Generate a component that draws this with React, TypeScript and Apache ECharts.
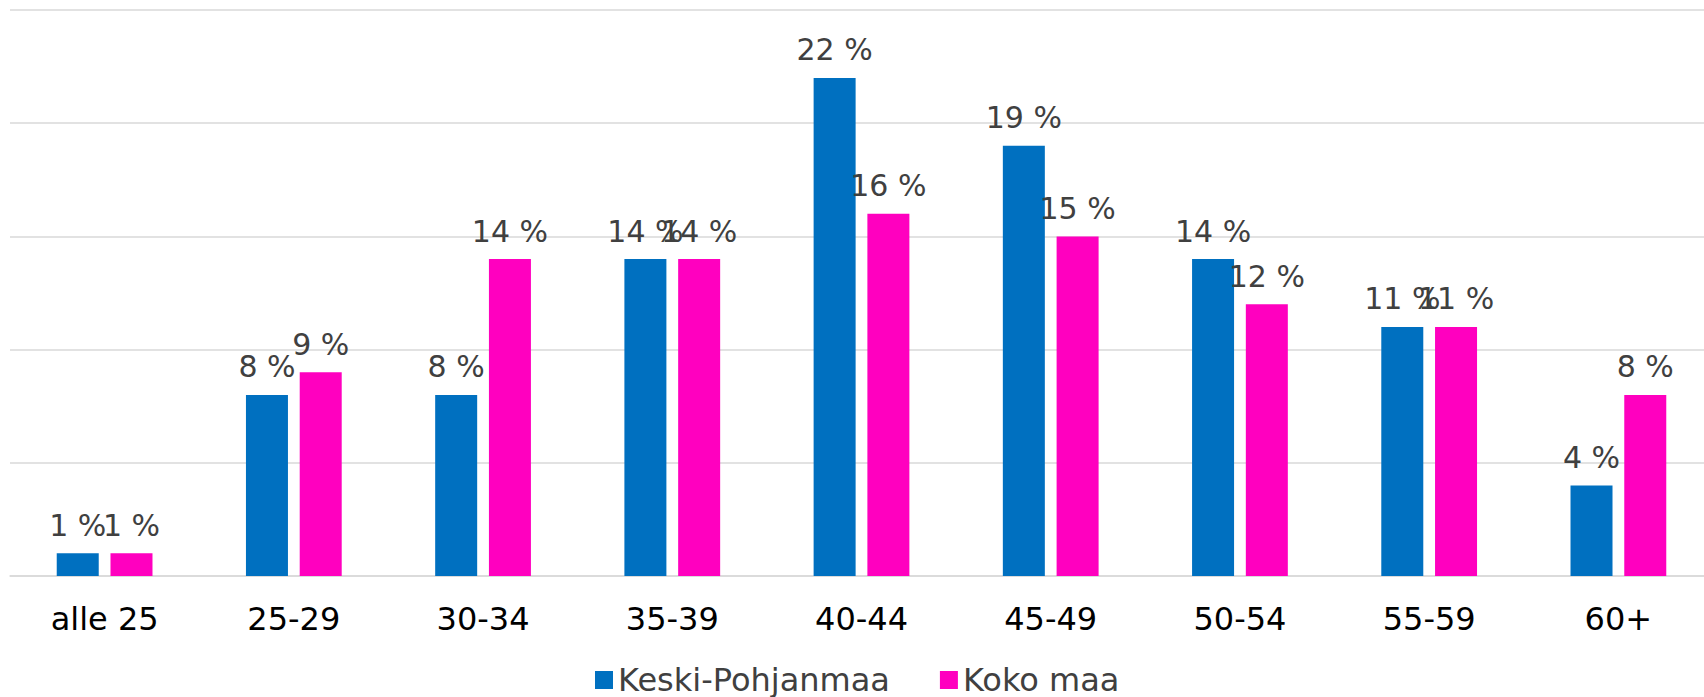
import React, { useEffect, useRef } from "react";
import * as echarts from "echarts";

const categories = ["alle 25", "25-29", "30-34", "35-39", "40-44", "45-49", "50-54", "55-59", "60+"];
const keskiPohjanmaa = [1, 8, 8, 14, 22, 19, 14, 11, 4];
const kokoMaa = [1, 9, 14, 14, 16, 15, 12, 11, 8];
const seriesNames = ["Keski-Pohjanmaa", "Koko maa"];
const colors = ["#0070C0", "#FF00BF"];

export default function App() {
  const ref = useRef<HTMLDivElement>(null);
  useEffect(() => {
    document.body.style.margin = "0";
    document.body.style.overflow = "hidden";
    document.documentElement.style.overflow = "hidden";
    const chart = echarts.init(ref.current!, undefined, { renderer: "svg" });
    const font = "'DejaVu Sans', Verdana, sans-serif";
    const labelCfg = {
      show: true,
      position: "top",
      distance: 13,
      formatter: (p: any) => `${p.value} %`,
      color: "#404040",
      fontSize: 30,
      fontFamily: font,
    };
    chart.setOption({
      animation: false,
      backgroundColor: "#ffffff",
      grid: { left: 10, right: 0, top: 10, bottom: 121, containLabel: false },
      legend: {
        left: 595,
        top: 664,
        padding: 0,
        itemWidth: 18,
        itemHeight: 18,
        itemGap: 50,
        icon: "rect",
        textStyle: { color: "#404040", fontSize: 32, lineHeight: 30, fontFamily: font },
        data: seriesNames,
      },
      xAxis: {
        type: "category",
        data: categories,
        axisTick: { show: false },
        axisLine: { show: true, lineStyle: { color: "#D9D9D9", width: 1.5 } },
        axisLabel: { color: "#000000", fontSize: 32, fontFamily: font, margin: 27 },
      },
      yAxis: {
        type: "value",
        min: 0,
        max: 25,
        interval: 5,
        axisLabel: { show: false },
        axisLine: { show: false },
        axisTick: { show: false },
        splitLine: { lineStyle: { color: "#D9D9D9", width: 1.5 } },
      },
      series: [
        {
          name: seriesNames[0],
          type: "bar",
          data: keskiPohjanmaa,
          barWidth: 42,
          barGap: "28%",
          itemStyle: { color: colors[0] },
          label: labelCfg,
        },
        {
          name: seriesNames[1],
          type: "bar",
          data: kokoMaa,
          barWidth: 42,
          barGap: "28%",
          itemStyle: { color: colors[1] },
          label: labelCfg,
        },
      ],
    });
    return () => chart.dispose();
  }, []);
  return <div ref={ref} style={{ width: 1713, height: 697 }} />;
}
